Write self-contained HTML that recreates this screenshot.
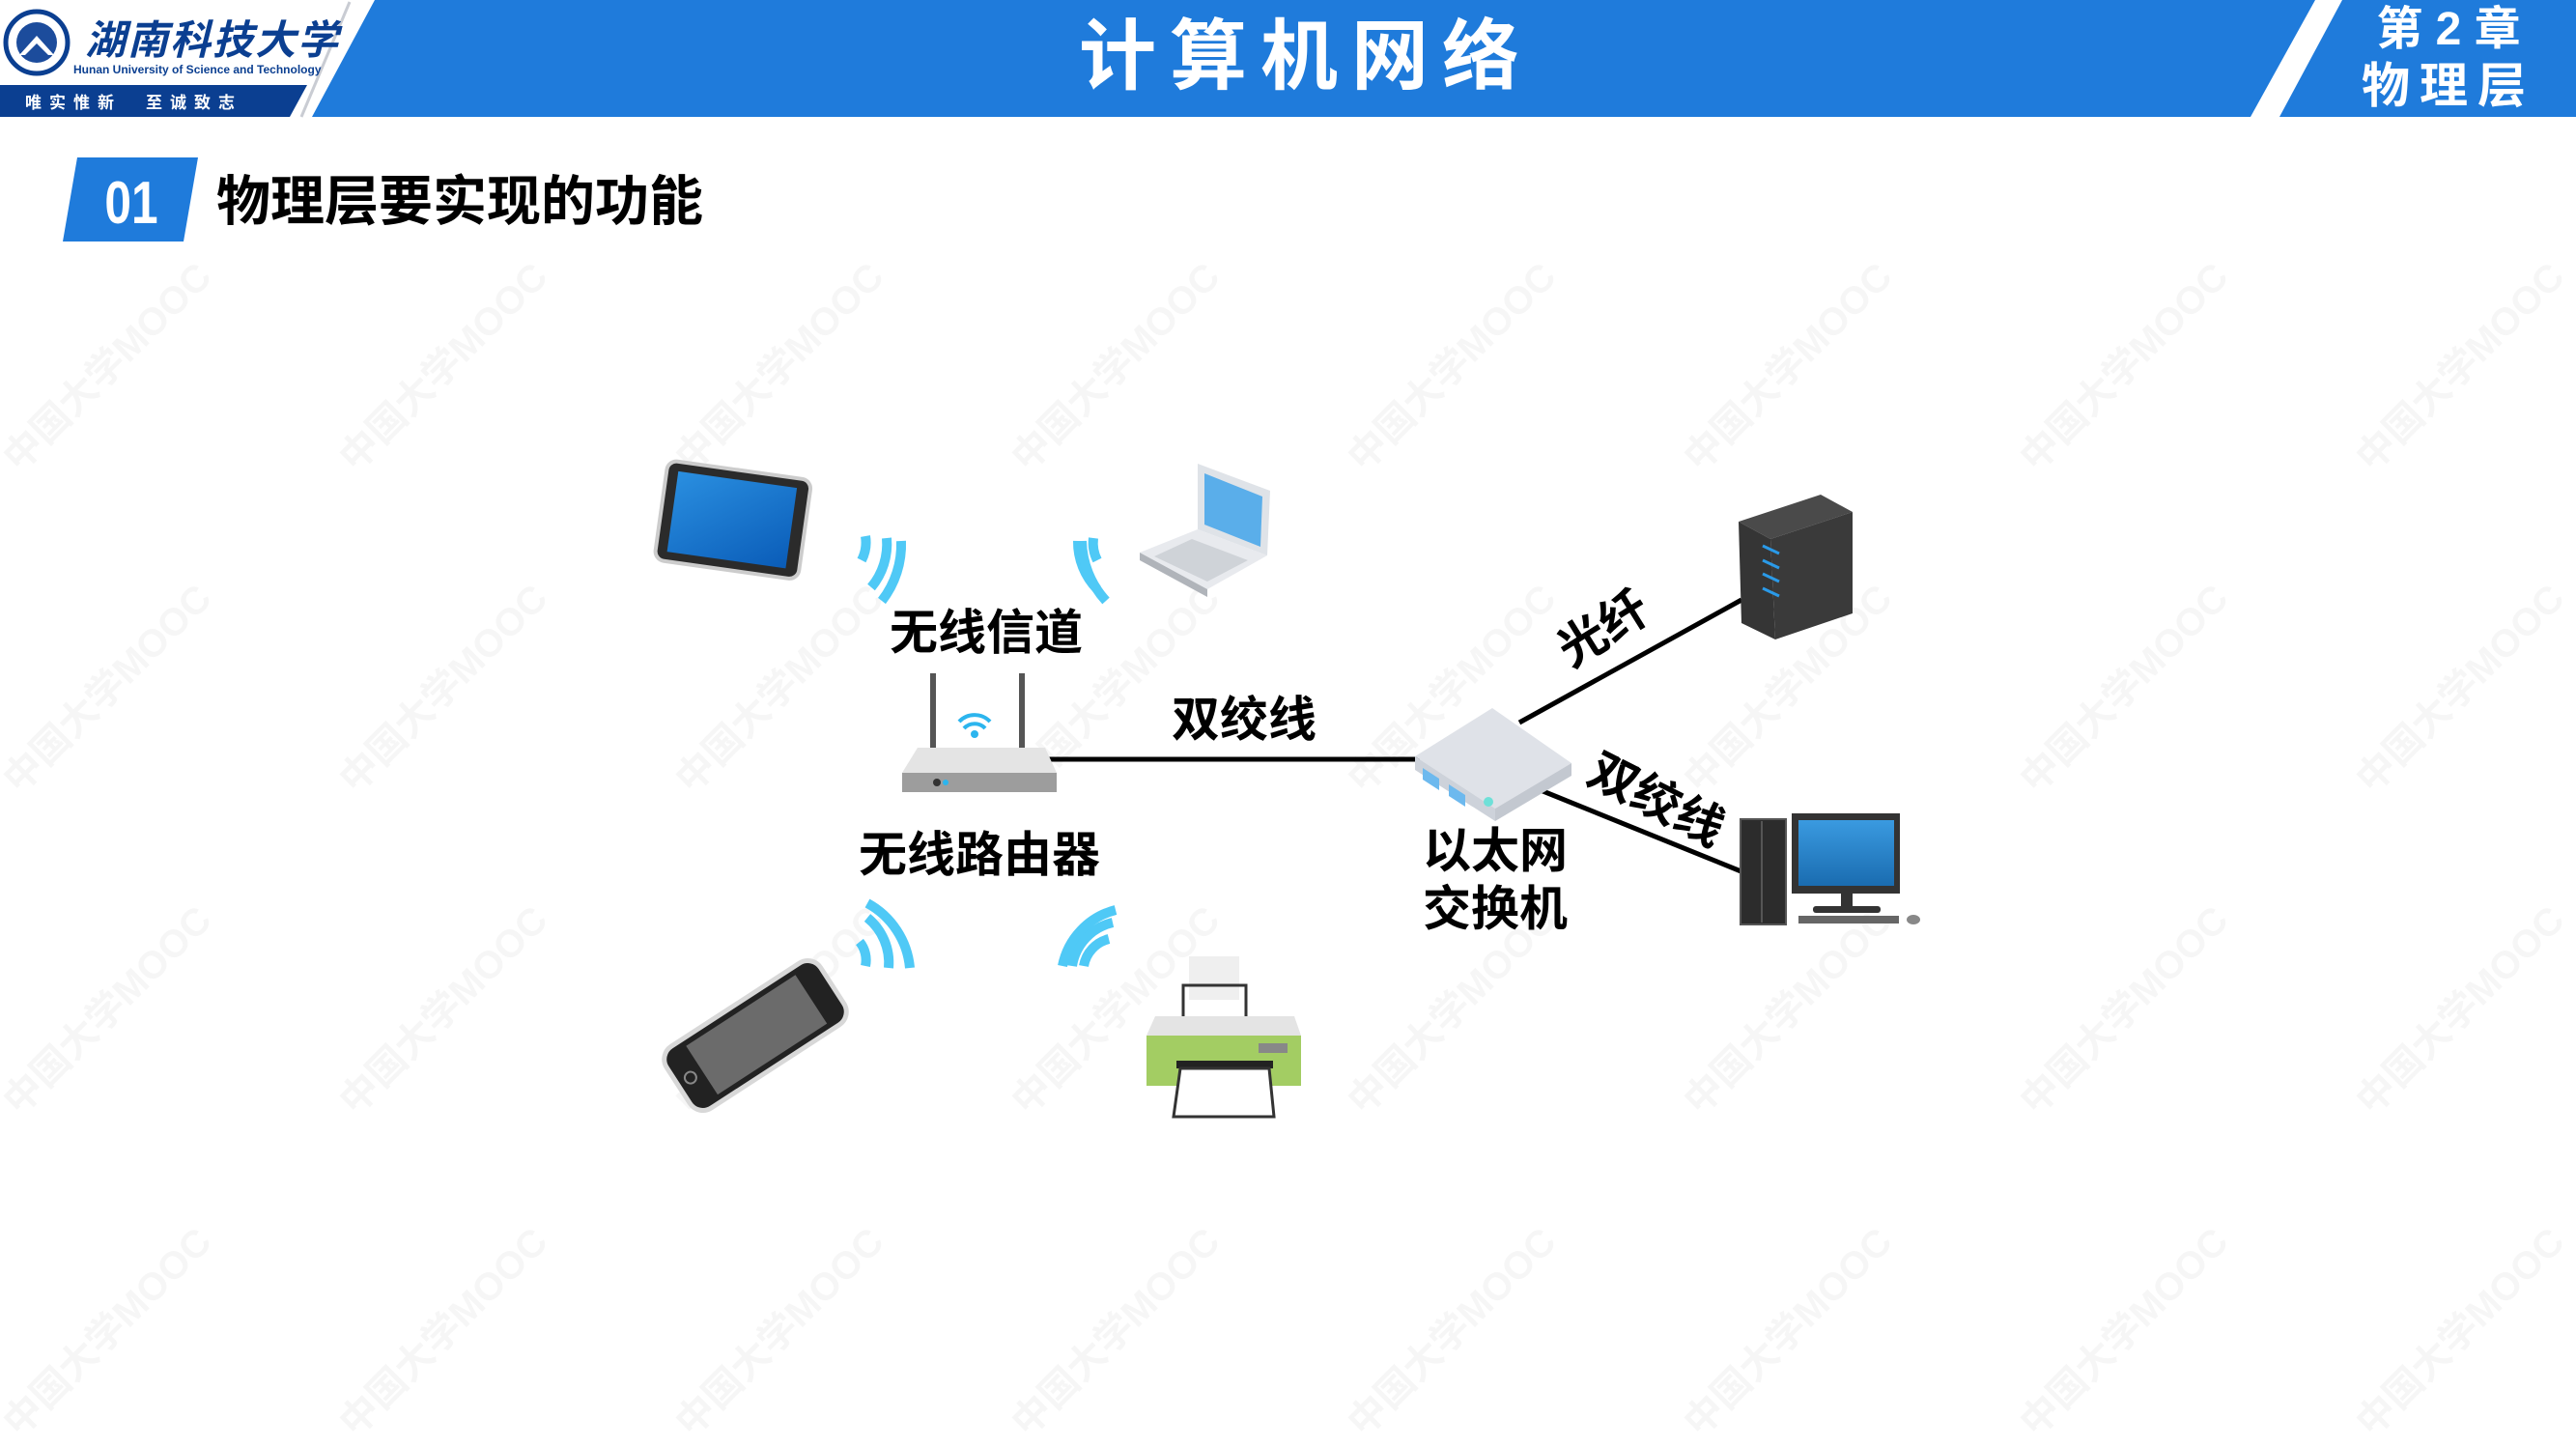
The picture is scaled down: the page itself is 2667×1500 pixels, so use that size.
<!DOCTYPE html>
<html><head><meta charset="utf-8"><style>
html,body{margin:0;padding:0;background:#fff}
svg{display:block}
text{font-family:"Liberation Sans","Noto Sans CJK SC",sans-serif;font-weight:bold}
</style></head><body>
<svg width="2667" height="1500" viewBox="0 0 2667 1500" xmlns="http://www.w3.org/2000/svg">
<defs>
<linearGradient id="scr" x1="0" y1="0" x2="1" y2="1"><stop offset="0" stop-color="#2a8fe0"/><stop offset="1" stop-color="#0a5cb8"/></linearGradient>
<linearGradient id="mon" x1="0" y1="0" x2="0" y2="1"><stop offset="0" stop-color="#3a9ae0"/><stop offset="1" stop-color="#1a6cb0"/></linearGradient>
<g id="wm"><text font-size="40" fill="#000" fill-opacity="0.035" font-weight="normal" transform="rotate(-45)">中国大学MOOC</text></g>
</defs>
<g>
<use href="#wm" x="20" y="490"/><use href="#wm" x="368" y="490"/><use href="#wm" x="716" y="490"/><use href="#wm" x="1064" y="490"/><use href="#wm" x="1412" y="490"/><use href="#wm" x="1760" y="490"/><use href="#wm" x="2108" y="490"/><use href="#wm" x="2456" y="490"/>
<use href="#wm" x="20" y="823"/><use href="#wm" x="368" y="823"/><use href="#wm" x="716" y="823"/><use href="#wm" x="1064" y="823"/><use href="#wm" x="1412" y="823"/><use href="#wm" x="1760" y="823"/><use href="#wm" x="2108" y="823"/><use href="#wm" x="2456" y="823"/>
<use href="#wm" x="20" y="1156"/><use href="#wm" x="368" y="1156"/><use href="#wm" x="716" y="1156"/><use href="#wm" x="1064" y="1156"/><use href="#wm" x="1412" y="1156"/><use href="#wm" x="1760" y="1156"/><use href="#wm" x="2108" y="1156"/><use href="#wm" x="2456" y="1156"/>
<use href="#wm" x="20" y="1489"/><use href="#wm" x="368" y="1489"/><use href="#wm" x="716" y="1489"/><use href="#wm" x="1064" y="1489"/><use href="#wm" x="1412" y="1489"/><use href="#wm" x="1760" y="1489"/><use href="#wm" x="2108" y="1489"/><use href="#wm" x="2456" y="1489"/>
</g>
<!-- header -->
<polygon points="388,0 2397,0 2330,121 323,121" fill="#1f7bdb"/>
<polygon points="2425,0 2667,0 2667,121 2360,121" fill="#1f7bdb"/>
<polygon points="0,88 318,88 300,121 0,121" fill="#0b3f91"/>
<line x1="362" y1="2" x2="312" y2="121" stroke="#c9ccd3" stroke-width="3"/>
<circle cx="38" cy="44" r="32" fill="#fff" stroke="#0b3f91" stroke-width="5"/>
<circle cx="38" cy="44" r="21" fill="#1c4c9c"/>
<polygon points="20,57 38,37 56,57 50,57 38,45 26,57" fill="#fff"/>
<text x="88" y="56" font-size="42" fill="#0b3f91" font-weight="normal" font-style="italic" letter-spacing="2">湖南科技大学</text>
<text x="76" y="76" font-size="12" fill="#0b3f91" font-weight="normal">Hunan University of Science and Technology</text>
<text x="26" y="112" font-size="17" fill="#fff" font-weight="normal" letter-spacing="8">唯实惟新　至诚致志</text>
<text x="1352" y="86" font-size="80" fill="#fff" text-anchor="middle" letter-spacing="14">计算机网络</text>
<text x="2535" y="46" font-size="48" fill="#fff" text-anchor="middle">第 2 章</text>
<text x="2535" y="106" font-size="50" fill="#fff" text-anchor="middle" letter-spacing="10">物理层</text>
<!-- section title -->
<polygon points="80,163 205,163 190,250 65,250" fill="#1f7bdb"/>
<text x="136" y="231" font-size="62" fill="#fff" text-anchor="middle" transform="translate(136,0) scale(0.8,1) translate(-136,0)">01</text>
<text x="224" y="228" font-size="56" fill="#000">物理层要实现的功能</text>
<!-- lines -->
<line x1="1082" y1="786" x2="1470" y2="786" stroke="#000" stroke-width="5"/>
<line x1="1573" y1="748" x2="1803" y2="621" stroke="#000" stroke-width="5"/>
<line x1="1590" y1="816" x2="1805" y2="903" stroke="#000" stroke-width="5"/>
<!-- labels -->
<text x="1021" y="672" font-size="50" text-anchor="middle">无线信道</text>
<text x="1288" y="762" font-size="50" text-anchor="middle">双绞线</text>
<text x="1014" y="902" font-size="50" text-anchor="middle">无线路由器</text>
<text x="1473" y="898" font-size="50">以太网</text>
<text x="1473" y="958" font-size="50">交换机</text>
<text x="1660" y="668" font-size="50" text-anchor="middle" transform="rotate(-32 1660 651)">光纤</text>
<text x="1715" y="845" font-size="50" text-anchor="middle" transform="rotate(27 1715 828)">双绞线</text>
<!-- tablet -->
<g transform="rotate(8 757 537)">
<rect x="684" y="486" width="150" height="104" rx="10" fill="#2b2b2b" stroke="#ccc" stroke-width="4"/>
<rect x="696" y="496" width="124" height="84" fill="url(#scr)"/>
</g>
<!-- laptop -->
<polygon points="1240,480 1315,508 1312,575 1240,548" fill="#dfe3e8"/>
<polygon points="1247,490 1307,514 1305,566 1247,543" fill="#5aaeea"/>
<polygon points="1240,548 1312,575 1250,610 1180,572" fill="#e8eaee"/>
<polygon points="1234,558 1292,580 1250,602 1195,576" fill="#cfd3d8"/>
<polygon points="1180,572 1250,610 1250,618 1180,580" fill="#b0b4ba"/>
<!-- wifi arcs -->
<g fill="none" stroke="#4fc9f6" stroke-linecap="butt">
<path d="M892,580 A40,40 0 0 0 896,555" stroke-width="10"/>
<path d="M902,608 A70,70 0 0 0 918,557" stroke-width="10"/>
<path d="M913,622 A95,95 0 0 0 933,560" stroke-width="10"/>
<path d="M1136,580 A40,40 0 0 1 1132,557" stroke-width="10"/>
<path d="M1136,610 A70,70 0 0 1 1116,560" stroke-width="10"/>
<path d="M1145,622 A95,95 0 0 1 1120,560" stroke-width="10"/>
<path d="M896,1000 A30,30 0 0 0 890,975" stroke-width="10"/>
<path d="M920,1002 A60,60 0 0 0 898,950" stroke-width="10"/>
<path d="M942,1002 A85,85 0 0 0 898,935" stroke-width="10"/>
<path d="M1122,1000 A35,35 0 0 1 1148,972" stroke-width="10"/>
<path d="M1110,1000 A55,55 0 0 1 1152,955" stroke-width="10"/>
<path d="M1100,1000 A75,75 0 0 1 1155,942" stroke-width="10"/>
</g>
<!-- router -->
<rect x="963" y="697" width="6" height="80" fill="#555"/>
<rect x="1055" y="697" width="6" height="80" fill="#555"/>
<path d="M998,754 a15,15 0 0 1 22,0 M993,747 a22,22 0 0 1 32,0" stroke="#2cb5ee" stroke-width="4" fill="none"/>
<circle cx="1009" cy="760" r="4" fill="#2cb5ee"/>
<polygon points="950,774 1082,774 1094,800 934,800" fill="#e4e4e4"/>
<rect x="934" y="800" width="160" height="20" fill="#9d9d9d"/>
<circle cx="970" cy="810" r="4" fill="#333"/><circle cx="979" cy="810" r="3" fill="#2cb5ee"/>
<!-- switch -->
<polygon points="1465,783 1545,733 1627,790 1548,837" fill="#dfe2e8"/>
<polygon points="1465,783 1548,837 1548,850 1465,797" fill="#cdd2da"/>
<polygon points="1548,837 1627,790 1627,803 1548,850" fill="#c3c8d0"/>
<polygon points="1473,795 1490,806 1490,818 1473,807" fill="#6db9ee"/>
<polygon points="1500,812 1517,823 1517,835 1500,824" fill="#6db9ee"/>
<circle cx="1541" cy="830" r="5" fill="#6fe0d8"/>
<!-- server -->
<polygon points="1800,540 1885,512 1918,530 1833,558" fill="#4a4a4a"/>
<polygon points="1833,558 1918,530 1918,635 1838,662" fill="#3a3a3a"/>
<polygon points="1800,540 1833,558 1838,662 1803,645" fill="#353535"/>
<g stroke="#2a9ae8" stroke-width="3"><line x1="1825" y1="565" x2="1842" y2="573"/><line x1="1825" y1="580" x2="1842" y2="588"/><line x1="1825" y1="594" x2="1842" y2="602"/><line x1="1825" y1="609" x2="1842" y2="617"/></g>
<!-- desktop -->
<rect x="1802" y="848" width="47" height="109" fill="#2c2c2c" stroke="#555" stroke-width="2"/>
<line x1="1824" y1="850" x2="1824" y2="955" stroke="#555" stroke-width="2"/>
<rect x="1855" y="842" width="112" height="83" fill="#333"/>
<rect x="1862" y="849" width="99" height="68" fill="url(#mon)"/>
<rect x="1906" y="925" width="12" height="14" fill="#333"/>
<rect x="1877" y="938" width="70" height="7" rx="3" fill="#333"/>
<rect x="1862" y="948" width="104" height="8" fill="#666"/>
<ellipse cx="1981" cy="952" rx="7" ry="5" fill="#888"/>
<!-- phone -->
<g transform="rotate(-33 782 1072)">
<rect x="687" y="1034" width="190" height="76" rx="16" fill="#222" stroke="#d8d8d8" stroke-width="5"/>
<rect x="716" y="1042" width="135" height="60" fill="#6b6b6b"/>
<circle cx="702" cy="1072" r="6" fill="none" stroke="#888" stroke-width="2"/>
</g>
<!-- printer -->
<rect x="1231" y="990" width="52" height="45" fill="#efefef"/>
<rect x="1225" y="1020" width="65" height="40" fill="none" stroke="#333" stroke-width="3"/>
<polygon points="1196,1052 1340,1052 1347,1072 1187,1072" fill="#e4e4e4"/>
<rect x="1187" y="1072" width="160" height="52" fill="#a3cd63"/>
<rect x="1303" y="1080" width="30" height="10" fill="#888"/>
<rect x="1218" y="1098" width="100" height="8" fill="#222"/>
<polygon points="1222,1106 1314,1106 1319,1156 1215,1156" fill="#fff" stroke="#333" stroke-width="3"/>
</svg>
</body></html>
